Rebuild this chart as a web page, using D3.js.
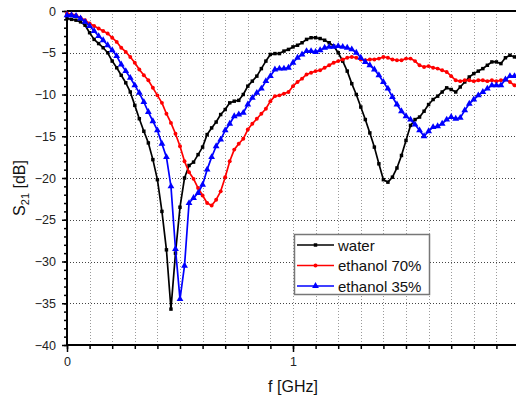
<!DOCTYPE html>
<html>
<head>
<meta charset="utf-8">
<script src="https://cdn.jsdelivr.net/npm/d3@7"></script>
<style>
  body { margin: 0; background: #fff; }
  svg { display: block; font-family: "Liberation Sans", Arial, sans-serif; }
</style>
</head>
<body>
<svg id="chart" width="516" height="402"></svg>
<script>
// frequency grid, GHz (measured sweep, 0.02 GHz step)
var freq = d3.range(0, 101).map(function(i) { return +(i * 0.02).toFixed(2); });

var water = [
  -0.9, -1.0, -1.1, -1.3, -1.7, -2.6, -3.4, -3.9, -4.4, -5.0,
  -6.0, -6.8, -7.7, -8.6, -9.7, -11.3, -12.9, -14.4, -15.8, -17.8,
  -20.2, -24.0, -28.6, -35.7, -29.0, -23.5, -20.0, -18.5, -18.1, -17.2,
  -16.3, -14.8, -14.0, -13.3, -12.4, -11.8, -11.0, -10.8, -10.7, -10.0,
  -9.0, -8.4, -7.8, -6.9, -6.0, -5.2, -5.1, -5.1, -4.8, -4.6,
  -4.3, -4.1, -3.8, -3.4, -3.2, -3.2, -3.3, -3.5, -3.8, -4.2,
  -5.0, -6.0, -7.2, -8.7, -10.0, -11.5, -13.0, -14.6, -16.3, -18.3,
  -20.2, -20.5, -19.9, -18.8, -17.3, -15.5, -13.7, -13.0, -12.7, -12.0,
  -11.2, -10.6, -10.2, -9.7, -9.2, -9.4, -9.7, -9.1, -8.5, -7.9,
  -7.5, -7.2, -6.9, -6.5, -6.1, -6.1, -6.3, -5.6, -5.3, -5.5,
  -5.7
];

var ethanol70 = [
  -0.3, -0.4, -0.5, -0.8, -1.1, -1.5, -1.8, -2.1, -2.4, -2.7,
  -3.2, -3.7, -4.4, -4.9, -5.5, -6.2, -7.0, -7.7, -8.3, -9.2,
  -10.1, -11.0, -12.3, -13.4, -14.7, -16.2, -18.0, -19.3, -20.1, -21.2,
  -22.1, -23.0, -23.3, -22.6, -21.6, -19.9, -18.0, -16.6, -15.9, -15.3,
  -14.2, -13.5, -12.9, -12.3, -11.7, -10.8, -10.2, -10.1, -9.9, -9.7,
  -9.0, -8.5, -8.1, -7.6, -7.4, -7.2, -7.1, -6.8, -6.5, -6.2,
  -6.0, -5.8, -5.6, -5.5, -5.6, -5.8, -5.9, -5.8, -5.8, -5.7,
  -5.5, -5.6, -5.8, -5.9, -5.9, -5.7, -5.7, -6.0, -6.5, -6.7,
  -6.6, -6.8, -6.9, -7.1, -7.3, -7.8, -8.3, -8.4, -8.3, -8.3,
  -8.4, -8.3, -8.3, -8.4, -8.3, -8.4, -8.3, -8.2, -8.5, -8.9,
  -9.0
];

var ethanol35 = [
  -0.5, -0.5, -0.6, -0.9, -1.3, -1.8, -2.4, -3.0, -3.5, -4.1,
  -4.7, -5.4, -6.4, -7.2, -8.0, -8.9, -9.8, -10.9, -12.1, -13.2,
  -14.3, -15.9, -17.5, -21.0, -28.5, -34.5, -30.5, -23.0, -22.4, -21.8,
  -20.8, -19.0, -17.5, -16.2, -15.4, -14.3, -13.5, -12.6, -12.4, -12.2,
  -11.2, -10.4, -9.8, -9.3, -8.4, -7.8, -7.0, -6.9, -6.9, -6.8,
  -6.2, -5.6, -5.2, -4.8, -4.8, -4.9, -4.7, -4.4, -4.3, -4.3,
  -4.2, -4.3, -4.4, -4.6, -5.0, -5.6, -6.1, -6.5, -7.0, -7.7,
  -8.5, -9.3, -10.3, -11.2, -12.0, -12.6, -13.0, -13.6, -14.3, -15.0,
  -14.4, -13.9, -13.8, -13.5, -13.0, -12.7, -12.9, -12.8, -11.9, -11.1,
  -10.6, -10.1, -9.7, -9.3, -8.9, -8.9, -8.9, -8.2, -7.8, -7.8,
  -8.0
];

var seriesNames = ["water", "ethanol 70%", "ethanol 35%"];
var seriesColors = ["#000000", "#ff0000", "#0000ff"];
var seriesShapes = [d3.symbolSquare, d3.symbolCircle, d3.symbolTriangle];
var seriesValues = [water, ethanol70, ethanol35];

var xTicks = [0, 1, 2];
var yTicks = [0, -5, -10, -15, -20, -25, -30, -35, -40];

var svg = d3.select("#chart");
var plotL = 67, plotR = 519, plotT = 11, plotB = 345;

var x = d3.scaleLinear().domain([0, 2]).range([plotL, plotR]);
var y = d3.scaleLinear().domain([-40, 0]).range([plotB, plotT]);

// grid
var grid = svg.append("g");
grid.selectAll(".vgrid")
  .data(d3.range(1, 20).map(function(i) { return i / 10; }))
  .enter().append("line")
  .attr("x1", function(d) { return Math.round(x(d)) + 0.5; })
  .attr("x2", function(d) { return Math.round(x(d)) + 0.5; })
  .attr("y1", plotT).attr("y2", plotB)
  .attr("stroke", "#9a9a9a")
  .attr("stroke-width", 1)
  .attr("stroke-dasharray", "1,2");
grid.selectAll(".hgrid")
  .data(yTicks.filter(function(d) { return d < 0 && d > -40; }))
  .enter().append("line")
  .attr("x1", plotL).attr("x2", plotR)
  .attr("y1", function(d) { return Math.round(y(d)) + 0.5; })
  .attr("y2", function(d) { return Math.round(y(d)) + 0.5; })
  .attr("stroke", "#444")
  .attr("stroke-width", 1)
  .attr("stroke-dasharray", "1,2");

// axes
var xAxis = d3.axisBottom(x).tickValues(xTicks).tickFormat(d3.format("d")).tickSize(7).tickPadding(5);
var xMinor = d3.axisBottom(x).tickValues(d3.range(0, 21).map(function(i) { return i / 10; })).tickFormat("").tickSize(4);
var yAxis = d3.axisLeft(y).tickValues(yTicks).tickFormat(d3.format("d")).tickSize(5).tickPadding(6);
var yMinor = d3.axisLeft(y).tickValues(d3.range(0, 41).map(function(i) { return -i; })).tickFormat("").tickSize(3);

function styleAxis(g) {
  g.select(".domain").remove();
  g.selectAll(".tick line").attr("stroke", "#000").attr("stroke-width", 1.5);
  g.selectAll(".tick text").attr("fill", "#222").style("font-size", "12.5px")
    .style("font-family", "'Liberation Sans', Arial, sans-serif");
}

svg.append("g").attr("transform", "translate(0," + plotB + ")").call(xMinor).call(styleAxis);
svg.append("g").attr("transform", "translate(0," + plotB + ")").call(xAxis).call(styleAxis);
svg.append("g").attr("transform", "translate(" + plotL + ",0)").call(yMinor).call(styleAxis);
svg.append("g").attr("transform", "translate(" + plotL + ",0)").call(yAxis).call(styleAxis);

// frame lines
svg.append("line").attr("x1", plotL).attr("x2", plotR).attr("y1", plotT).attr("y2", plotT)
  .attr("stroke", "#000").attr("stroke-width", 2);
svg.append("line").attr("x1", plotL).attr("x2", plotR).attr("y1", plotB).attr("y2", plotB)
  .attr("stroke", "#000").attr("stroke-width", 2);
svg.append("line").attr("x1", plotL).attr("x2", plotL).attr("y1", plotT).attr("y2", plotB)
  .attr("stroke", "#000").attr("stroke-width", 2);

// series
var line = d3.line()
  .x(function(d, i) { return x(freq[i]); })
  .y(function(d) { return y(d); });

var markSize = [12, 12, 20];

seriesValues.forEach(function(vals, k) {
  var g = svg.append("g");
  g.append("path")
    .datum(vals)
    .attr("d", line)
    .attr("fill", "none")
    .attr("stroke", seriesColors[k])
    .attr("stroke-width", 1.7)
    .attr("stroke-linejoin", "round");
  g.selectAll("path.mark")
    .data(vals)
    .enter().append("path")
    .attr("class", "mark")
    .attr("transform", function(d, i) { return "translate(" + x(freq[i]) + "," + y(d) + ")"; })
    .attr("d", d3.symbol().type(seriesShapes[k]).size(markSize[k]))
    .attr("fill", seriesColors[k]);
});

// axis titles
svg.append("text")
  .attr("x", 293).attr("y", 392)
  .attr("text-anchor", "middle")
  .style("font-size", "16px")
  .attr("fill", "#111")
  .text("f [GHz]");

var yt = svg.append("text")
  .attr("transform", "translate(25,188) rotate(-90)")
  .attr("text-anchor", "middle")
  .style("font-size", "16px")
  .attr("fill", "#111");
yt.append("tspan").text("S");
yt.append("tspan").attr("dy", 4).style("font-size", "11px").text("21");
yt.append("tspan").attr("dy", -4).text(" [dB]");

// legend
var legend = svg.append("g");
legend.append("rect")
  .attr("x", 294.5).attr("y", 234.5).attr("width", 135).attr("height", 60)
  .attr("fill", "#fff").attr("stroke", "#777").attr("stroke-width", 1.5);

seriesNames.forEach(function(name, k) {
  var ly = 245 + k * 20.5;
  legend.append("line")
    .attr("x1", 297).attr("x2", 334).attr("y1", ly).attr("y2", ly)
    .attr("stroke", seriesColors[k]).attr("stroke-width", 1.7);
  legend.append("path")
    .attr("transform", "translate(315.5," + ly + ")")
    .attr("d", d3.symbol().type(seriesShapes[k]).size(markSize[k]))
    .attr("fill", seriesColors[k]);
  legend.append("text")
    .attr("x", 338).attr("y", ly + 5.5)
    .style("font-size", "15px")
    .attr("fill", "#111")
    .text(name);
});
</script>
</body>
</html>
